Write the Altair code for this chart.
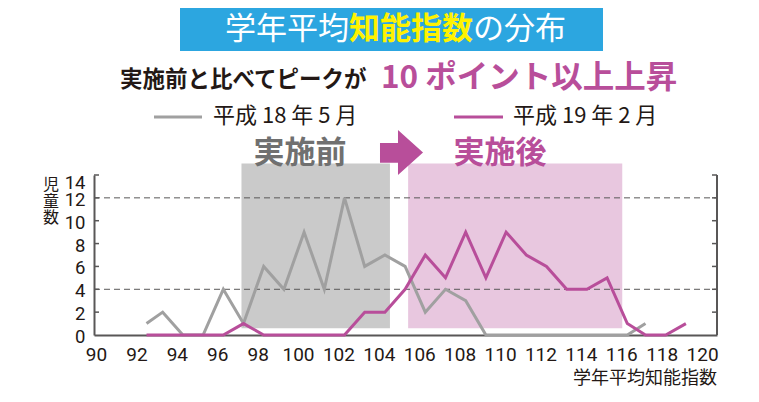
import altair as alt
import pandas as pd

# ---------------- data ----------------
iq_x = [92.5, 93.3, 94.3, 95.3, 96.3, 97.3, 98.3, 99.3, 100.3, 101.3, 102.3, 103.3,
        104.3, 105.3, 106.3, 107.3, 108.3, 109.3, 110.3, 111.3, 112.3, 113.3, 114.3,
        115.3, 116.3, 117.2, 118.2, 119.2]
counts_h18 = [1, 2, 0, 0, 4, 1, 6, 4, 9, 4, 12, 6, 7, 6, 2, 4, 3, 0, 0, 0, 0, 0, 0, 0, 0, 1]
counts_h19 = [0, 0, 0, 0, 0, 1, 0, 0, 0, 0, 0, 2, 2, 4, 7, 5, 9, 5, 9, 7, 6, 4, 4, 5, 1, 0, 0, 1]
series_names = ["平成 18 年 5 月", "平成 19 年 2 月"]

x_tick_values = list(range(90, 121, 2))
y_tick_values = list(range(0, 15, 2))
grid_values = [4, 12]

band_labels = ["実施前", "実施後"]
band_start = [97.2, 105.45]
band_end = [104.55, 116.05]
band_low = [0.6, 0.6]
band_high = [15.0, 15.0]

title_parts = ["学年平均", "知能指数", "の分布"]
subtitle_parts = ["実施前と比べてピークが", "10 ポイント以上上昇"]
x_title = "学年平均知能指数"
y_title = ["児", "童", "数"]

# ---------------- style ----------------
GRAY_LINE = "#A0A0A0"
MAGENTA = "#B84E9A"
GRAY_BAND = "#CACACA"
PINK_BAND = "#E8C7DF"
BLUE = "#2CA6E0"
YELLOW = "#FFF200"
DARK = "#231815"
AXIS = "#595757"
JP = "Noto Sans CJK JP"
NUM = "Roboto, Liberation Sans, Noto Sans"

W, H = 623, 160
X_DOMAIN = [89.9, 120.74]
Y_DOMAIN = [0, 14]

xs = alt.Scale(domain=X_DOMAIN, nice=False, zero=False)
ys = alt.Scale(domain=Y_DOMAIN, nice=False)

x_axis = alt.Axis(
    values=x_tick_values, title=None, grid=False, ticks=False,
    domainColor=AXIS, domainWidth=2, labelFont=NUM, labelFontSize=19,
    labelColor=DARK, labelPadding=10, labelFlush=False, labelOverlap=False)
y_axis = alt.Axis(
    values=y_tick_values, title=None, grid=False, ticks=False,
    domainColor=AXIS, domainWidth=2, labelFont=NUM, labelFontSize=18.5,
    labelColor=DARK, labelPadding=9, labelFlush=False, labelOverlap=False,
    labelOffset={"condition": {"test": "datum.value == 14", "value": 7}, "value": 1.5})

rows = []
for name, vals in zip(series_names, [counts_h18, counts_h19]):
    for xv, cv in zip(iq_x, vals):
        rows.append({"iq": xv, "count": cv, "series": name})
df = pd.DataFrame(rows)

bands = pd.DataFrame({"label": band_labels, "x0": band_start, "x1": band_end,
                      "y0": band_low, "y1": band_high})

one = pd.DataFrame({"k": [0]})

band_layer = alt.Chart(bands).mark_rect(opacity=1).encode(
    x=alt.X("x0:Q", scale=xs, axis=x_axis),
    x2="x1:Q",
    y=alt.Y("y0:Q", scale=ys, axis=y_axis),
    y2="y1:Q",
    fill=alt.Fill("label:N", scale=alt.Scale(domain=band_labels, range=[GRAY_BAND, PINK_BAND]), legend=None),
)

grid_layer = alt.Chart(pd.DataFrame({"g": grid_values})).mark_rule(
    color=AXIS, strokeWidth=1, strokeDash=[6, 4]
).encode(y=alt.Y("g:Q", scale=ys, axis=y_axis), x=alt.value(0), x2=alt.value(W))

tick_df = pd.DataFrame({"t": y_tick_values[1:]})
left_ticks = alt.Chart(tick_df).mark_rule(color=AXIS, strokeWidth=1.5).encode(
    y=alt.Y("t:Q", scale=ys, axis=y_axis), x=alt.value(0), x2=alt.value(5))
right_ticks = alt.Chart(tick_df).mark_rule(color=AXIS, strokeWidth=1.5).encode(
    y=alt.Y("t:Q", scale=ys, axis=y_axis), x=alt.value(W - 5), x2=alt.value(W))
right_axis = alt.Chart(one).mark_rule(color=AXIS, strokeWidth=2).encode(
    x=alt.value(W), y=alt.value(0), y2=alt.value(H))

lines = alt.Chart(df).mark_line(strokeWidth=3, opacity=1).encode(
    x=alt.X("iq:Q", scale=xs, axis=x_axis),
    y=alt.Y("count:Q", scale=ys, axis=y_axis),
    color=alt.Color("series:N", scale=alt.Scale(domain=series_names, range=[GRAY_LINE, MAGENTA]), legend=None),
    detail="series:N",
)


def txt(text, x, y, size, color, weight="normal", align="left", baseline="middle", font=JP, **kw):
    return alt.Chart(pd.DataFrame({"t": [text]})).mark_text(
        align=align, baseline=baseline, font=font, fontSize=size, color=color,
        fontWeight=weight, **kw
    ).encode(text="t:N", x=alt.value(x), y=alt.value(y))


title_box = alt.Chart(one).mark_rect(color=BLUE).encode(
    x=alt.value(86), x2=alt.value(509), y=alt.value(-167), y2=alt.value(-124))

title_layers = [
    txt(title_parts[0], 131, -145, 31, "white", "normal"),
    txt(title_parts[1], 255, -145, 31, YELLOW, "bold"),
    txt(title_parts[2], 379, -145, 31, "white", "normal"),
]

subtitle_layers = [
    txt(subtitle_parts[0], 26, -95, 22.5, DARK, "bold"),
    txt(subtitle_parts[1], 287, -96, 31.5, MAGENTA, "bold"),
]

legend_lines = [
    alt.Chart(one).mark_rule(color=GRAY_LINE, strokeWidth=3).encode(
        x=alt.value(60), x2=alt.value(108), y=alt.value(-58)),
    alt.Chart(one).mark_rule(color=MAGENTA, strokeWidth=3).encode(
        x=alt.value(360), x2=alt.value(409), y=alt.value(-58)),
]
legend_texts = [
    txt(series_names[0], 119, -59, 22, DARK),
    txt(series_names[1], 419, -59, 22, DARK),
]

band_texts = [
    txt(band_labels[0], 206, -21, 31, "#707070", "bold", align="center"),
    txt(band_labels[1], 406, -21, 31, MAGENTA, "bold", align="center"),
]

arrow_path = "M-0.956,-0.42L-0.156,-0.42L-0.156,-1L0.956,0L-0.156,1L-0.156,0.46L-0.956,0.46Z"
arrow = alt.Chart(one).mark_point(
    shape=arrow_path, filled=True, size=2025, color=MAGENTA, opacity=1, strokeWidth=0
).encode(x=alt.value(307.5), y=alt.value(-22.5))

x_title_layer = txt(x_title, W, 204, 18, DARK, align="right")
y_title_layers = [
    txt(ch, -43, 10 + 16.5 * i, 16, DARK, align="center")
    for i, ch in enumerate(y_title)
]

chart = alt.layer(
    band_layer, grid_layer, left_ticks, right_ticks, right_axis, lines,
    title_box, *title_layers, *subtitle_layers, *legend_lines, *legend_texts,
    *band_texts, arrow, x_title_layer, *y_title_layers,
).properties(
    width=W, height=H,
    autosize=alt.AutoSizeParams(type="none"),
    padding={"left": 86, "top": 167, "right": 34, "bottom": 59},
    background="white",
).configure_view(stroke=None)

chart.save("out.html", embed_options={"renderer": "svg", "actions": False})
